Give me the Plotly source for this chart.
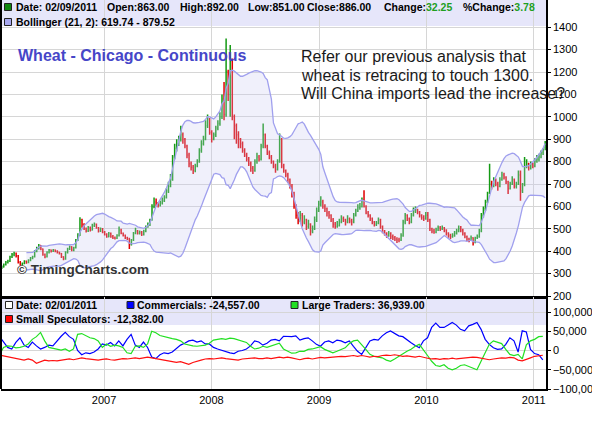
import numpy as np
import pandas as pd
import plotly.graph_objects as go

# ---------------- weekly price data (Wheat - Chicago - Continuous) ----------------
price_open = [
    318,325,330,340,350,355,375,385,390,380,
    350,340,345,355,350,360,370,375,400,415,
    425,410,385,375,395,405,400,405,400,395,
    390,375,365,395,410,420,405,415,450,470,
    540,520,500,490,505,495,515,520,505,490,
    500,485,475,465,480,465,460,458,470,495,
    480,470,460,455,430,450,480,490,480,485,
    475,490,510,520,540,600,620,610,605,615,
    625,640,670,690,720,820,860,880,900,920,
    900,870,830,790,775,760,780,800,850,880,
    900,960,990,930,900,920,950,970,1000,1080,
    1010,1200,1100,1250,1000,960,920,900,880,850,
    830,810,790,770,760,800,820,810,870,920,
    870,840,820,800,780,765,800,900,780,760,
    740,720,690,660,600,560,540,560,530,540,
    510,520,490,500,540,580,610,620,600,590,
    570,560,540,520,510,515,530,545,540,530,
    545,535,530,560,580,595,600,630,600,570,
    560,545,530,520,525,540,510,490,480,470,
    480,465,460,455,450,450,470,530,560,545,
    530,560,580,585,575,560,550,545,560,540,
    500,490,485,495,505,500,505,495,480,470,
    465,470,480,490,500,495,480,465,455,450,
    460,440,460,465,490,560,590,620,660,700,
    690,720,700,690,720,740,730,710,680,700,
    720,690,700,740,670,700,780,790,770,790,
    780,800,810,820,840,863,
]
price_high = [
    332,336,345,356,362,380,392,398,394,383,
    356,350,360,358,364,374,380,405,420,432,
    428,412,390,400,410,408,410,408,404,398,
    392,378,400,415,425,422,420,455,480,552,
    545,525,506,512,510,522,528,524,508,506,
    504,490,480,486,484,472,466,476,510,500,
    484,474,465,460,455,486,505,495,492,490,
    496,515,528,545,610,640,635,620,625,640,
    650,680,710,745,830,880,900,915,960,930,
    905,875,840,800,785,790,810,860,895,915,
    985,1010,995,940,930,960,985,1020,1100,1155,
    1349,1210,1320,1260,1010,970,935,905,890,860,
    840,820,800,780,810,840,830,880,970,925,
    875,850,830,805,790,810,925,905,790,765,
    750,725,700,665,610,575,580,570,560,545,
    540,525,515,555,595,625,645,630,610,595,
    580,565,548,530,535,545,560,555,545,560,
    550,545,570,590,610,615,640,672,605,580,
    565,550,535,535,550,545,515,495,485,490,
    485,475,468,462,460,480,540,570,565,550,
    570,595,600,590,580,565,560,575,575,545,
    505,500,505,515,512,515,508,498,485,478,
    480,490,500,515,512,500,485,470,460,470,
    462,465,475,500,570,600,630,665,790,715,
    730,725,710,730,755,750,735,715,710,735,
    725,710,760,760,705,820,810,795,800,795,
    815,830,835,850,860,892,
]
price_low = [
    315,320,327,336,345,352,370,378,372,345,
    335,336,342,344,346,355,364,372,395,408,
    404,380,368,372,390,394,396,395,390,385,
    370,360,362,390,405,400,400,412,445,468,
    505,495,484,486,488,492,508,500,484,486,
    480,470,460,462,460,455,452,455,466,476,
    466,455,450,410,426,446,476,475,474,468,
    470,485,505,512,536,592,600,595,600,608,
    620,635,660,685,715,810,845,870,890,880,
    860,815,775,760,745,752,775,795,840,872,
    895,950,920,885,895,910,940,960,990,985,
    1000,1070,1000,985,900,880,860,860,840,820,
    800,780,755,745,755,790,800,805,860,860,
    830,810,790,770,750,760,795,770,750,730,
    705,680,640,590,545,520,530,510,520,495,
    500,470,480,495,530,575,600,590,575,555,
    545,530,505,500,505,510,525,530,515,525,
    525,515,525,555,575,585,595,595,565,550,
    535,520,510,512,520,500,480,470,460,465,
    455,450,445,437,440,445,465,520,535,520,
    525,555,570,565,550,540,535,540,530,490,
    480,478,480,490,490,495,485,470,460,455,
    460,465,475,485,485,470,458,445,440,445,
    425,435,455,460,485,550,580,615,655,675,
    685,690,670,685,715,720,700,655,675,695,
    680,680,695,625,660,690,770,760,765,770,
    775,795,800,815,830,851,
]
price_close = [
    325,330,340,350,355,375,385,390,380,350,
    340,345,355,350,360,370,375,400,415,425,
    410,385,375,395,405,400,405,400,395,390,
    375,365,395,410,420,405,415,450,470,540,
    520,500,490,505,495,515,520,505,490,500,
    485,475,465,480,465,460,458,470,495,480,
    470,460,455,430,450,480,490,480,485,475,
    490,510,520,540,600,620,610,605,615,625,
    640,670,690,720,820,860,880,900,920,900,
    870,830,790,775,760,780,800,850,880,900,
    960,990,930,900,920,950,970,1000,1080,1010,
    1200,1100,1250,1000,960,920,900,880,850,830,
    810,790,770,760,800,820,810,870,920,870,
    840,820,800,780,765,800,900,780,760,740,
    720,690,660,600,560,540,560,530,540,510,
    520,490,500,540,580,610,620,600,590,570,
    560,540,520,510,515,530,545,540,530,545,
    535,530,560,580,595,600,630,600,570,560,
    545,530,520,525,540,510,490,480,470,480,
    465,460,455,450,450,470,530,560,545,530,
    560,580,585,575,560,550,545,560,540,500,
    490,485,495,505,500,505,495,480,470,465,
    470,480,490,500,495,480,465,455,450,460,
    440,460,465,490,560,590,620,660,700,690,
    720,700,690,720,740,730,710,680,700,720,
    690,700,740,670,700,780,790,770,790,780,
    800,810,820,840,854,886,
]

# ---------------- COT net positions (thousands of contracts, bi-weekly) ----------------
commercials_k = [
    37,21,8,4,21,33,14,8,22,12,
    4,8,14,12,25,37,47,36,29,0,
    -11,-6,-8,-4,4,17,14,21,12,25,
    12,29,42,14,8,22,8,-17,-21,-11,
    -6,-8,-4,4,14,19,25,27,22,25,
    17,17,8,4,0,-2,-6,-8,-2,0,
    4,12,25,22,14,19,27,29,25,37,
    36,36,38,27,31,33,25,16,11,22,
    25,20,27,25,20,25,11,-2,-10,7,
    25,29,27,38,46,51,45,38,36,27,
    20,13,7,25,33,60,71,60,60,66,
    73,66,55,51,64,68,73,55,29,16,
    7,3,4,16,33,25,-4,51,48,3,
    -8,-11,-24.557,
]
large_traders_k = [
    -12,8,12,11,7,8,11,17,29,36,
    47,25,8,6,4,1,4,-2,4,42,
    44,39,33,31,25,8,17,11,14,12,
    8,-6,-8,11,12,8,17,50,46,39,
    36,33,31,29,25,17,14,12,11,12,
    14,19,27,29,31,29,32,31,27,25,
    21,11,4,6,11,8,12,17,19,4,
    -2,-7,-6,-2,-2,3,4,7,10,3,
    -2,-6,-2,3,7,18,25,27,16,3,
    -10,-15,-17,-19,-25,-28,-22,-15,-8,-2,
    3,11,16,3,-13,-28,-39,-41,-37,-46,
    -50,-46,-39,-37,-41,-46,-50,-28,-6,16,
    25,22,18,3,-10,-13,-10,-22,15,25,
    29,36,36.939,
]
small_specs_k = [
    -12,-14,-17,-19,-21,-22,-25,-22,-25,-33,
    -29,-25,-27,-26,-27,-25,-23,-22,-24,-21,
    -19,-21,-22,-24,-25,-23,-22,-24,-25,-23,
    -21,-22,-21,-19,-21,-19,-17,-19,-21,-24,
    -26,-27,-29,-31,-29,-33,-36,-31,-27,-25,
    -22,-21,-22,-21,-19,-21,-22,-23,-25,-22,
    -21,-21,-19,-21,-21,-19,-21,-19,-17,-19,
    -17,-19,-22,-24,-21,-20,-22,-20,-18,-19,
    -18,-17,-15,-15,-16,-14,-13,-15,-13,-15,
    -17,-15,-16,-13,-12,-13,-11,-13,-15,-14,
    -16,-17,-15,-18,-20,-22,-21,-23,-21,-22,
    -20,-22,-21,-19,-18,-17,-18,-20,-22,-24,
    -22,-21,-19,-20,-18,-19,-25,-27,-24,-19,
    -15,-13,-12.382,
]

price_ticks = list(range(200, 1500, 100))
cot_ticks = [-100000, -50000, 0, 50000, 100000]

# ---------------- derived series ----------------
dates = pd.date_range(end="2011-02-09", periods=len(price_close), freq="7D")
cot_dates = pd.date_range(end="2011-02-01", periods=len(commercials_k), freq="14D")
commercials = np.array(commercials_k) * 1000
large_traders = np.array(large_traders_k) * 1000
small_specs = np.array(small_specs_k) * 1000

close_s = pd.Series(price_close, dtype=float)
mid = close_s.rolling(21, min_periods=14).mean()
sd = close_s.rolling(21, min_periods=14).std(ddof=0)
upper = mid + 2 * sd
lower = mid - 2 * sd
ok = mid.notna().values

# ---------------- geometry helpers ----------------
W, H = 592, 424
ML, MR, MT, MB = 1, 46, 0, 35
PW, PH = W - ML - MR, H - MT - MB


def px(x):
    return (x - ML) / PW


def py(y):
    return (PH - (y - MT)) / PH


GRID = "#d6d6d6"
BAND = "#a0a0ee"
FONT = "Liberation Sans, Arial, sans-serif"
XR = ["2006-01-15 12:00", "2011-02-11 20:00"]

fig = go.Figure()
fig.add_trace(go.Scatter(x=dates[ok], y=lower[ok], mode="lines",
                         line=dict(color=BAND, width=1.3), hoverinfo="skip",
                         xaxis="x", yaxis="y"))
fig.add_trace(go.Scatter(x=dates[ok], y=upper[ok], mode="lines",
                         line=dict(color=BAND, width=1.3), fill="tonexty",
                         fillcolor="rgba(200,200,242,0.28)", hoverinfo="skip",
                         xaxis="x", yaxis="y"))
fig.add_trace(go.Ohlc(x=dates, open=price_open, high=price_high, low=price_low,
                      close=price_close, tickwidth=0.4,
                      increasing=dict(line=dict(color="#149a14", width=1.5)),
                      decreasing=dict(line=dict(color="#e00000", width=1.5)),
                      xaxis="x", yaxis="y", hoverinfo="skip"))
fig.add_trace(go.Scatter(x=cot_dates, y=commercials, mode="lines",
                         line=dict(color="#0000ff", width=1.2), xaxis="x2", yaxis="y2"))
fig.add_trace(go.Scatter(x=cot_dates, y=large_traders, mode="lines",
                         line=dict(color="#22e022", width=1.2), xaxis="x2", yaxis="y2"))
fig.add_trace(go.Scatter(x=cot_dates, y=small_specs, mode="lines",
                         line=dict(color="#ff1010", width=1.2), xaxis="x2", yaxis="y2"))

main_bottom = py(296)
low_top = py(297)

fig.update_layout(
    width=W, height=H, margin=dict(l=ML, r=MR, t=MT, b=MB),
    paper_bgcolor="white", plot_bgcolor="rgba(0,0,0,0)",
    showlegend=False, hovermode=False,
    font=dict(family=FONT, size=11, color="black"),
    xaxis=dict(domain=[0, 1], anchor="y", type="date", range=XR,
               showticklabels=False, showgrid=True, gridcolor=GRID, gridwidth=1,
               dtick="M12", tick0="2007-01-01", ticks="",
               rangeslider=dict(visible=False),
               showline=True, linecolor="black", linewidth=3, zeroline=False),
    xaxis2=dict(domain=[0, 1], anchor="y2", type="date", range=XR, matches="x",
                showgrid=True, gridcolor=GRID, gridwidth=1,
                dtick="M12", tick0="2007-01-01", tickformat="%Y", ticks="",
                tickfont=dict(size=11), automargin=False,
                showline=True, linecolor="black", linewidth=2, zeroline=False),
    yaxis=dict(domain=[main_bottom, 1], anchor="x", side="right",
               range=[200, 200 + 296 / 22.4 * 100], tickvals=price_ticks,
               showgrid=True, gridcolor=GRID, gridwidth=1, zeroline=False,
               showline=True, linecolor="black", linewidth=1.5, automargin=False,
               ticks="outside", ticklen=3, tickcolor="black"),
    yaxis2=dict(domain=[0, low_top], anchor="x2", side="right",
                range=[-100000, 139000], tickvals=cot_ticks, tickformat=",",
                showgrid=True, gridcolor=GRID, gridwidth=1, zeroline=False,
                showline=True, linecolor="black", linewidth=1.5, automargin=False,
                ticks="outside", ticklen=3, tickcolor="black"),
)

shapes = [
    dict(type="rect", xref="paper", yref="paper", x0=0, x1=1, y0=py(26), y1=py(0),
         fillcolor="#e6e6fa", line=dict(width=0), layer="below"),
    dict(type="rect", xref="paper", yref="paper", x0=0, x1=1, y0=py(325), y1=py(297),
         fillcolor="#e6e6fa", line=dict(width=0), layer="below"),
    dict(type="line", xref="paper", yref="paper", x0=0, x1=0, y0=0, y1=1,
         line=dict(color="black", width=2)),
]


def square(x0, y0, color):
    return dict(type="rect", xref="paper", yref="paper",
                x0=px(x0), x1=px(x0 + 7), y0=py(y0 + 7), y1=py(y0),
                fillcolor=color, line=dict(color="#222222", width=1))


shapes += [
    square(4.5, 3.5, "#118811"),
    square(4.5, 18.5, "#a8a8f0"),
    square(5.5, 301.5, "white"),
    square(127, 301.5, "#0000ff"),
    square(291, 301.5, "#22e022"),
    square(5.5, 315.5, "#ff0000"),
]
fig.update_layout(shapes=shapes)

G = "<span style='color:#1f9f1f'>"


def ann(x, y, text, size=11, color="black"):
    return dict(xref="paper", yref="paper", x=px(x), y=py(y), text=text,
                xanchor="left", yanchor="middle", showarrow=False,
                borderpad=0, borderwidth=0,
                font=dict(size=size, color=color, family=FONT))


header_fields = [
    (16, "Date: 02/09/2011"), (107, "Open:863.00"), (180, "High:892.00"),
    (248, "Low:851.00"), (307, "Close:886.00"),
    (384, "Change:" + G + "32.25</span>"), (463, "%Change:" + G + "3.78</span>"),
]
annotations = [ann(x, 7, "<b>" + t + "</b>", size=10.5) for x, t in header_fields]
annotations += [
    ann(16, 21.5, "<b>Bollinger (21, 2): 619.74 - 879.52</b>", size=10.5),
    ann(16, 305, "<b>Date: 02/01/2011</b>", size=10.5),
    ann(137, 305, "<b>Commercials: -24,557.00</b>", size=10.5),
    ann(301.5, 305, "<b>Large Traders: 36,939.00</b>", size=10.5),
    ann(16, 319, "<b>Small Speculators: -12,382.00</b>", size=10.5),
    ann(18, 56, "<b>Wheat - Chicago - Continuous</b>", size=16, color="#4646c8"),
    ann(301, 56.5, "Refer our previous analysis that", size=16, color="#1a1a1a"),
    ann(301, 75, "wheat is retracing to touch 1300.", size=16, color="#1a1a1a"),
    ann(301, 93.5, "Will China imports lead the increase?", size=16, color="#1a1a1a"),
    ann(17, 269, "<b>© TimingCharts.com</b>", size=13.5, color="#333333"),
]
fig.update_layout(annotations=annotations)

fig.write_html("out.html", config={"displayModeBar": False},
               post_script="document.body.style.margin='0px';document.body.style.padding='0px';")
